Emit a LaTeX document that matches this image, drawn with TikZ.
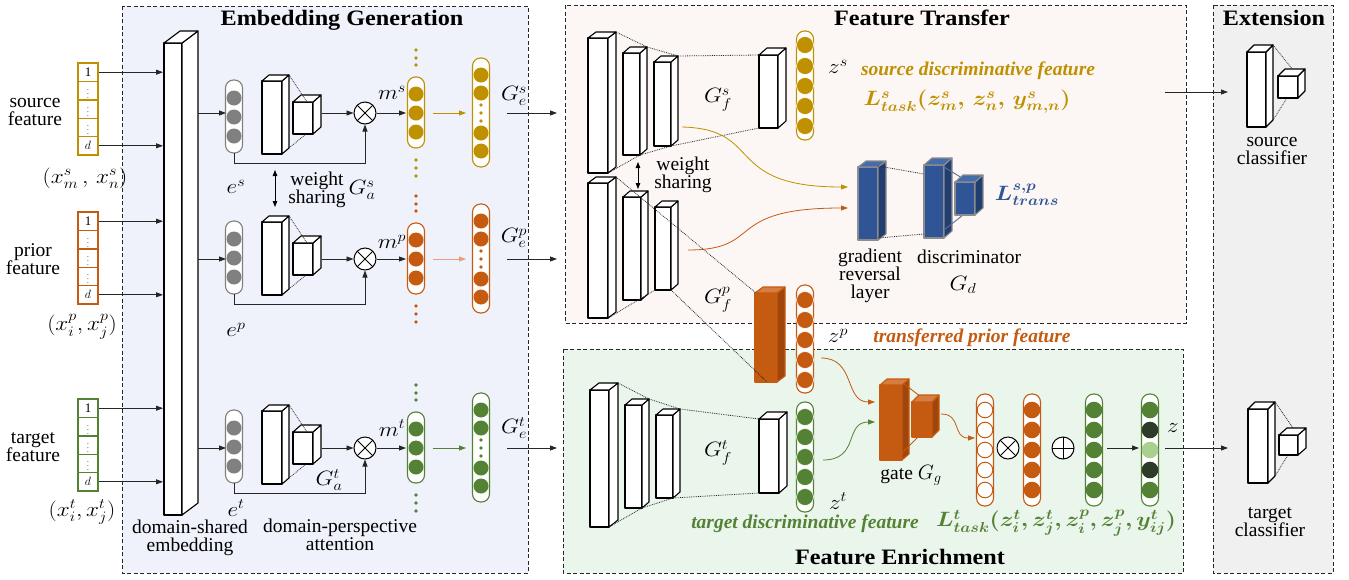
\documentclass[tikz,border=0pt]{standalone}
\usepackage{amsmath}
\usepackage{bm}
\usepackage{fontspec}
\setmainfont{Liberation Serif}
\usetikzlibrary{arrows.meta,calc}

\definecolor{gold}{RGB}{191,144,0}
\definecolor{rust}{RGB}{197,90,17}
\definecolor{rustside}{RGB}{160,70,12}
\definecolor{rusttop}{RGB}{214,125,65}
\definecolor{rustlight}{RGB}{232,160,120}
\definecolor{leaf}{RGB}{84,130,53}
\definecolor{darkleaf}{RGB}{45,60,40}
\definecolor{paleleaf}{RGB}{169,208,142}
\definecolor{navy}{RGB}{47,85,151}
\definecolor{navyside}{RGB}{34,62,112}
\definecolor{navytop}{RGB}{70,108,172}
\definecolor{slate}{RGB}{90,110,150}
\definecolor{egray}{RGB}{128,128,128}
\definecolor{bgEmb}{RGB}{239,242,250}
\definecolor{bgTr}{RGB}{252,247,245}
\definecolor{bgEn}{RGB}{234,245,236}
\definecolor{bgEx}{RGB}{240,240,240}

\tikzset{
  panel/.style={draw=black!85, line width=1pt, dash pattern=on 4pt off 2.5pt},
  cubeedge/.style={line width=1.1pt, draw=black, line join=round},
  cubefront/.style={cubeedge, fill=white},
  cubeside/.style={cubeedge, fill=white},
  cubetop/.style={cubeedge, fill=white},
  bluecube/.style={cubefront/.style={cubeedge, draw=black!45, fill=navy},
                   cubeside/.style={cubeedge, draw=black!45, fill=navyside},
                   cubetop/.style={cubeedge, draw=black!45, fill=navytop}},
  rustcube/.style={cubefront/.style={cubeedge, draw=rust, fill=rust},
                   cubeside/.style={cubeedge, draw=rust, fill=rustside},
                   cubetop/.style={cubeedge, draw=rust, fill=rusttop}},
  fov/.style={densely dotted, line width=0.8pt, draw=black!85},
  arr/.style={-{Triangle[length=7pt,width=5pt]}, line width=0.8pt, draw=black!85},
  carr/.style={-{Triangle[length=7pt,width=5pt]}, line width=0.8pt, draw=#1},
  dbl/.style={{Triangle[length=6pt,width=4.5pt]}-{Triangle[length=6pt,width=4.5pt]}, line width=0.8pt},
  otimes/.style={circle, draw, line width=1pt, minimum size=22pt, inner sep=0pt, fill=white,
    path picture={\draw[line width=0.9pt] (path picture bounding box.north west) -- (path picture bounding box.south east)
      (path picture bounding box.north east) -- (path picture bounding box.south west);}},
  oplus/.style={circle, draw, line width=1pt, minimum size=22pt, inner sep=0pt, fill=white,
    path picture={\draw[line width=0.9pt] (path picture bounding box.north) -- (path picture bounding box.south)
      (path picture bounding box.east) -- (path picture bounding box.west);}},
  cell/.style={draw, line width=1.4pt, minimum width=20pt, minimum height=18.4pt, inner sep=0pt,
    fill=white, font=\fontsize{13}{13}\selectfont},
  lbl/.style={font=\fontsize{19.5}{18}\selectfont, align=center, inner sep=0pt},
  ml/.style={font=\fontsize{22}{22}\selectfont, inner sep=0pt, xscale=1.12},
  mb/.style={font=\fontsize{21}{21}\selectfont, inner sep=0pt, xscale=1.12},
  ib/.style={font=\fontsize{19.5}{19.5}\selectfont\bfseries\itshape, inner sep=0pt},
  ttl/.style={font=\fontsize{22}{22}\selectfont\bfseries, inner sep=0pt, xscale=1.1},
}

% a box in oblique projection: [style] x, y of front top-left, width, height, depth dx, dy
\newcommand{\cuboid}[7][]{%
  \begin{scope}[#1]
    \path[cubefront] (#2,#3) rectangle ++(#4,#5);
    \path[cubeside] (#2+#4,#3) -- ++(#6,-#7) -- ++(0,#5) -- ++(-#6,#7) -- cycle;
    \path[cubetop] (#2,#3) -- ++(#6,-#7) -- ++(#4,0) -- ++(-#6,#7) -- cycle;
  \end{scope}}

% a rounded vector outline: centre x, top, bottom, colour
\newcommand{\pill}[4]{\draw[line width=1.1pt, draw=#4, fill=white, rounded corners=8pt] (#1-8.5,#2) rectangle (#1+8.5,#3);}

% one input vector with five cells
\newcommand{\invec}[3]{%
  \node[cell, draw=#3] (#1c1) at (88,#2+9.2) {1};
  \node[cell, draw=#3] (#1c2) at (88,#2+27.6) {\color{black!65}\fontsize{9}{9}\selectfont$\vdots$};
  \node[cell, draw=#3] (#1c3) at (88,#2+46) {\color{black!65}\fontsize{9}{9}\selectfont$\vdots$};
  \node[cell, draw=#3] (#1c4) at (88,#2+64.4) {\color{black!65}\fontsize{9}{9}\selectfont$\vdots$};
  \node[cell, draw=#3] (#1c5) at (88,#2+82.8) {$d$};
  \draw[arr] (#1c1.east) -- (#1c1.east -| embL);
  \draw[arr] (#1c5.east) -- (#1c5.east -| embL);}

% one row of the embedding generator: tag, row y, colour, light arrow colour, centre of e
\newcommand{\embrow}[5]{%
  \pill{234}{#5-37}{#5+36}{egray}
  \foreach \dd in {-19,0,19} \fill[egray] (234,#5+\dd) circle (7.5);
  \coordinate (e#1in) at (226,#2);
  \coordinate (e#1bot) at (234,#5+36);
  \draw[arr] (emb#1) -- (e#1in);
  \cuboid{262}{#5-36}{20}{73}{7}{6}
  \cuboid{293}{#5-15}{20}{32}{8}{7}
  \draw[fov] (289,#5-42) -- (307,#5-15) (289,#5+31) -- (306,#5+17);
  \coordinate (att#1) at (322,#2);
  \node[otimes] (x#1) at (365,#2) {};
  \draw[arr] (att#1) -- (x#1);
  \draw[arr] (e#1bot) -- ++(0,10) -| (x#1.south);
  \pill{416}{#2-36}{#2+35}{#3}
  \foreach \dd in {-19,0,19} \fill[#3] (416,#2+\dd) circle (7.5);
  \foreach \dd in {-63,-55,-48,47,55,63} \fill[#3] (416,#2+\dd) circle (1.8);
  \coordinate (m#1in) at (406,#2);
  \coordinate (m#1out) at (433,#2);
  \draw[arr] (x#1) -- (m#1in);
  \pill{481}{#2-55}{#2+54}{#3}
  \foreach \dd in {-38,-20,20,38} \fill[#3] (481,#2+\dd) circle (7.5);
  \foreach \dd in {-8,0,8} \fill[#3] (481,#2+\dd) circle (1.8);
  \coordinate (g#1in) at (466,#2);
  \coordinate (g#1out) at (507,#2);
  \draw[carr=#4] (m#1out) -- (g#1in);
  \draw[arr] (g#1out) -- (ft#1);}

\begin{document}
\begin{tikzpicture}[x=1pt,y=-1pt]
\useasboundingbox (0,0) rectangle (1349,579);
\fill[white] (0,0) rectangle (1349,579);

% ---------- panels ----------
\filldraw[panel, fill=bgEmb] (122,6) rectangle (528,573);
\filldraw[panel, fill=bgTr] (565,5) rectangle (1186,323);
\filldraw[panel, fill=bgEn] (563,349) rectangle (1183,573);
\filldraw[panel, fill=bgEx] (1213,5) rectangle (1333,573);

\node[ttl] (tEmb) at (342,20) {Embedding Generation};
\node[ttl] (tTr) at (922,18) {Feature Transfer};
\node[ttl] (tEn) at (900,557) {Feature Enrichment};
\node[ttl] (tEx) at (1274,18) {Extension};

% ---------- inputs ----------
\coordinate (embL) at (163,0);
\invec{s}{63}{gold}
\invec{p}{212}{rust}
\invec{t}{399}{leaf}

\node[lbl] (lsrc) at (35,112) {source\\feature};
\node[lbl] (lpri) at (33,259) {prior\\feature};
\node[lbl] (ltgt) at (33,447) {target\\feature};
\node[ml] (xs) at (85,178) {$(x^{s}_{m}\,,\, x^{s}_{n})$};
\node[ml] (xp) at (82,327) {$(x^{p}_{i}, x^{p}_{j})$};
\node[ml] (xt) at (82,512) {$(x^{t}_{i}, x^{t}_{j})$};

% ---------- domain-shared embedding ----------
\cuboid{164}{43}{18}{472}{16}{12}
\coordinate (embs) at (198,113);
\coordinate (embp) at (198,259);
\coordinate (embt) at (198,448);
\node[lbl] (lemb) at (190,538) {domain-shared\\embedding};

\coordinate (fts) at (557,113);
\coordinate (ftp) at (557,259);
\coordinate (ftt) at (557,448);

\embrow{s}{113}{gold}{gold}{117}
\embrow{p}{259}{rust}{rustlight}{258}
\embrow{t}{448}{leaf}{leaf}{447}

\node[ml] (ms) at (392,93) {$m^{s}$};
\node[ml] (mp) at (392,242) {$m^{p}$};
\node[ml] (mt) at (392,428) {$m^{t}$};
\node[ml] (ges) at (514,96) {$G_{e}^{s}$};
\node[ml] (gep) at (514,238) {$G_{e}^{p}$};
\node[ml] (get) at (514,428) {$G_{e}^{t}$};
\node[ml] (es) at (236,187) {$e^{s}$};
\node[ml] (ep) at (236,330) {$e^{p}$};
\node[ml] (et) at (236,508) {$e^{t}$};
\node[ml] (gas) at (362,190) {$G_{a}^{s}$};
\node[ml] (gat) at (329,480) {$G_{a}^{t}$};
\node[lbl] (ws1) at (317,190) {weight\\sharing};
\coordinate (ws1a) at (275,170);
\coordinate (ws1b) at (275,207);
\draw[dbl] (ws1a) -- (ws1b);
\node[lbl] (latt) at (340,535) {domain-perspective\\attention};

% ---------- feature transfer ----------
% source feature extractor
\cuboid{588}{38}{20}{135}{8}{6}
\cuboid{623}{53}{17}{102}{7}{6}
\cuboid{654}{62}{17}{84}{7}{6}
\cuboid{759}{55}{19}{73}{8}{7}
\draw[fov] (616,32) -- (647,47) (608,173) -- (640,155)
  (647,47) -- (678,56) (640,155) -- (671,146)
  (678,56) -- (759,55) (671,146) -- (759,128);
\pill{805}{31}{140}{gold}
\foreach \yy in {45,66,86,106,126} \filldraw[fill=gold, draw=white, line width=0.6pt] (805,\yy) circle (8.5);

% prior feature extractor
\cuboid{588}{183}{20}{135}{8}{6}
\cuboid{623}{197}{18}{103}{7}{6}
\cuboid{655}{207}{16}{83}{7}{6}
\cuboid[rustcube]{755}{293}{22}{89}{8}{6}
\draw[fov] (616,177) -- (756,293) (608,318) -- (655,290) (671,290) -- (767,382);
\pill{805}{285}{393}{rust}
\foreach \yy in {300,320,340,360,380} \filldraw[fill=rust, draw=white, line width=0.6pt] (805,\yy) circle (8.5);

\node[ml] (zs) at (838,67) {$z^{s}$};
\node[ml] (gfs) at (718,100) {$G_{f}^{s}$};
\node[ml] (gfp) at (718,300) {$G_{f}^{p}$};
\node[ml] (zp) at (838,336) {$z^{p}$};
\node[lbl] (ws2) at (683,175) {weight\\sharing};
\coordinate (ws2a) at (638,162);
\coordinate (ws2b) at (638,189);
\draw[dbl] (ws2a) -- (ws2b);

\node[ib, text=gold] (lsdf) at (978,71) {source discriminative feature};
\node[mb, text=gold] (lts) at (967,102) {$\bm{L^{s}_{task}(z^{s}_{m},\, z^{s}_{n},\, y^{s}_{m,n})}$};

% gradient reversal layer and discriminator
\coordinate (cs0) at (682,127);
\coordinate (grlA) at (848,187);
\draw[carr=gold] (cs0) .. controls (765,129) and (722,187) .. (grlA);
\coordinate (cp0) at (688,250);
\coordinate (grlB) at (848,208);
\draw[carr=rust] (cp0) .. controls (765,250) and (722,208) .. (grlB);

\cuboid[bluecube]{858}{167}{20}{73}{8}{6}
\cuboid[bluecube]{924}{165}{20}{73}{8}{7}
\draw[line width=0.9pt, slate] (944,167) -- (967,181) (944,230) -- (963,215);
\cuboid[bluecube]{955}{182}{20}{33}{8}{7}
\draw[fov] (878,166) -- (924,174) (878,238) -- (924,234);
\node[mb, text=navy] (ltr) at (1027,195) {$\bm{L^{s,p}_{trans}}$};
\node[lbl] (lgrl) at (870,276) {gradient\\reversal\\layer};
\node[lbl] (ldis) at (969,257) {discriminator};
\node[ml] (gd) at (963,285) {$G_{d}$};

\node[ib, text=rust] (ltpf) at (972,338) {transferred prior feature};

% ---------- feature enrichment ----------
\cuboid{590}{390}{19}{137}{9}{7}
\cuboid{625}{405}{17}{103}{7}{6}
\cuboid{656}{415}{17}{83}{7}{6}
\cuboid{759}{419}{20}{74}{8}{7}
\draw[fov] (618,383) -- (649,399) (609,527) -- (642,508)
  (649,399) -- (680,409) (642,508) -- (673,498)
  (680,409) -- (759,419) (673,498) -- (759,493);
\pill{805}{402}{512}{leaf}
\foreach \yy in {417,437,457,477,497} \filldraw[fill=leaf, draw=white, line width=0.6pt] (805,\yy) circle (8.5);
\node[ml] (gft) at (718,453) {$G_{f}^{t}$};
\node[ml] (zt) at (838,501) {$z^{t}$};
\node[ib, text=leaf] (ltdf) at (805,524) {target discriminative feature};

% gate
\coordinate (zpout) at (821,358);
\coordinate (gateA) at (875,402);
\draw[carr=rust] (zpout) .. controls (856,358) and (844,402) .. (gateA);
\coordinate (ztout) at (823,460);
\coordinate (gateB) at (875,422);
\draw[carr=leaf] (ztout) .. controls (860,460) and (844,422) .. (gateB);
\cuboid[rustcube]{880}{385}{22}{75}{7}{6}
\draw[line width=0.9pt, rust] (903,383) -- (921,397) (903,452) -- (918,437);
\cuboid[rustcube]{912}{402}{20}{35}{7}{7}
\node[lbl] (lgate) at (911,475) {gate \fontsize{22}{22}\selectfont$G_{g}$};
\coordinate (gateout) at (941,414);
\coordinate (gin) at (975,438);
\draw[carr=rust] (gateout) .. controls (962,414) and (952,438) .. (gin);

% gated fusion
\pill{985}{394}{506}{rust}
\foreach \yy in {410,430,450,470,490} \draw[draw=rust, fill=white, line width=1pt] (985,\yy) circle (7.8);
\node[otimes] (xg) at (1008,448) {};
\pill{1032}{394}{506}{rust}
\foreach \yy in {410,430,450,470,490} \fill[rust] (1032,\yy) circle (8.3);
\node[oplus] (pg) at (1063,448) {};
\pill{1094}{394}{506}{leaf}
\foreach \yy in {410,430,450,470,490} \fill[leaf] (1094,\yy) circle (8.3);
\coordinate (fuseout) at (1107,448);
\coordinate (zin) at (1139,448);
\draw[arr] (fuseout) -- (zin);
\pill{1150}{394}{506}{leaf}
\fill[leaf] (1150,410) circle (8.3);
\fill[darkleaf] (1150,430) circle (8.3);
\fill[paleleaf] (1150,450) circle (8.3);
\fill[darkleaf] (1150,470) circle (8.3);
\fill[leaf] (1150,490) circle (8.3);
\node[ml] (zz) at (1173,428) {$z$};
\node[mb, text=leaf] (ltt) at (1056,523) {$\bm{L^{t}_{task}(z^{t}_{i}, z^{t}_{j}, z^{p}_{i}, z^{p}_{j}, y^{t}_{ij})}$};

% ---------- extension ----------
\coordinate (ftout) at (1165,92);
\coordinate (scin) at (1228,92);
\draw[arr] (ftout) -- (scin);
\cuboid{1247}{52}{19}{75}{7}{7}
\draw[fov] (1273,45) -- (1293,70) (1273,120) -- (1287,98);
\cuboid{1278}{76}{20}{22}{7}{7}
\node[lbl] (lsc) at (1272,151) {source\\classifier};

\coordinate (zout) at (1165,448);
\coordinate (tcin) at (1228,448);
\draw[arr] (zout) -- (tcin);
\cuboid{1248}{409}{20}{74}{7}{7}
\draw[fov] (1275,402) -- (1293,428) (1275,476) -- (1288,455);
\cuboid{1279}{435}{19}{20}{8}{7}
\node[lbl] (ltc) at (1270,522) {target\\classifier};
\end{tikzpicture}
\end{document}
